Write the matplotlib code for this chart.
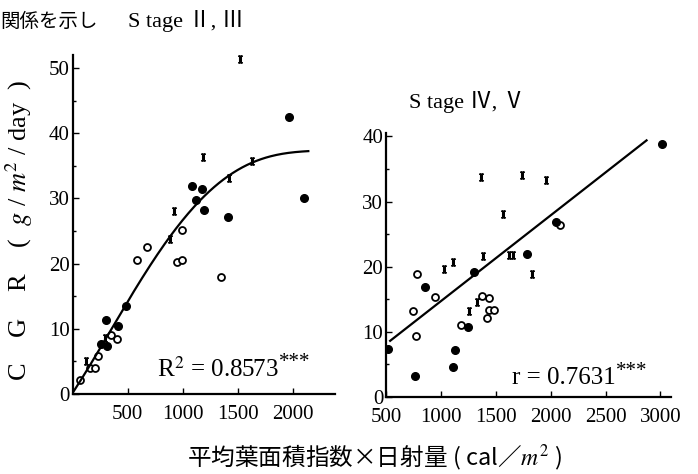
import numpy as np
import matplotlib
matplotlib.use("Agg")
import matplotlib.pyplot as plt
from matplotlib.ticker import MultipleLocator

# ---------------- data ----------------
# Left panel: Stage II, III
L_open_x = [66, 157, 200, 227, 349, 406, 585, 678, 945, 991, 997, 1345]
L_open_y = [2.2, 4.0, 4.0, 5.8, 9.0, 8.5, 20.6, 22.6, 20.2, 20.5, 25.1, 18.0]
L_fill_x = [255, 309, 303, 412, 480, 1087, 1173, 1121, 1191, 1409, 1969, 2100]
L_fill_y = [7.7, 7.4, 11.4, 10.5, 13.5, 31.9, 31.5, 29.8, 28.2, 27.2, 42.5, 30.1]
L_bar_x = [125, 294, 885, 921, 1185, 1418, 1627, 1523]
L_bar_y = [5.0, 8.6, 23.8, 28.1, 36.3, 33.2, 35.7, 51.4]
# fitted curve
L_curve_x = [0, 218, 354, 491, 703, 885, 1118, 1421, 1612, 1763, 1976, 2142]
L_curve_y = [0, 6.7, 10.0, 13.4, 20.0, 23.6, 29.7, 33.2, 35.4, 36.3, 36.95, 37.3]

# Right panel: Stage IV, V
R_fill_x = [518, 762, 855, 1109, 1130, 1248, 1302, 1783, 2046, 3013]
R_fill_y = [7.4, 3.2, 16.8, 4.6, 7.2, 10.7, 19.1, 22.0, 26.8, 38.9]
R_open_x = [786, 949, 750, 771, 1187, 1377, 1434, 1422, 1434, 1483, 2085]
R_open_y = [18.8, 15.4, 13.2, 9.4, 11.1, 15.5, 15.1, 12.1, 13.3, 13.4, 26.4]
R_bar_x = [1362, 1739, 1953, 1564, 1380, 1623, 1660, 1829, 1109, 1024, 1257, 1332]
R_bar_y = [33.8, 34.0, 33.3, 28.1, 21.6, 21.8, 21.8, 18.8, 20.7, 19.6, 13.1, 14.5]
# regression line y = a + b x
R_line_a = 1.50
R_line_b = 0.01319
R_line_range = [538, 2873]

L_xticks = [500, 1000, 1500, 2000]
L_yticks = [0, 10, 20, 30, 40, 50]
R_xticks = [500, 1000, 1500, 2000, 2500, 3000]
R_yticks = [0, 10, 20, 30, 40]

# ---------------- drawing ----------------
SERIF = ['Liberation Serif', 'Noto Sans CJK JP', 'DejaVu Sans']
JP = ['Noto Sans CJK JP', 'DejaVu Sans']
plt.rcParams['font.family'] = SERIF
plt.rcParams['mathtext.fontset'] = 'stix'

fig = plt.figure(figsize=(6.98, 4.74), dpi=100)
axL = fig.add_axes([0.1042, 0.1688, 0.480 - 0.1042, 0.884 - 0.1688])
axR = fig.add_axes([0.553, 0.163, 0.962 - 0.553, 0.719 - 0.163])

bar_marker = r'$\mathbf{I}$'


def style(ax, xt, yt, xlim, ylim):
    for s in ['top', 'right']:
        ax.spines[s].set_visible(False)
    for s in ['left', 'bottom']:
        ax.spines[s].set_linewidth(1.6)
    ax.set_xlim(*xlim)
    ax.set_ylim(*ylim)
    ax.set_xticks(xt)
    ax.set_yticks(yt)
    ax.yaxis.set_minor_locator(MultipleLocator(5))
    ax.tick_params(direction='in', length=4, width=1, labelsize=15)
    ax.tick_params(axis='x', pad=8)
    ax.tick_params(axis='y', pad=2)
    ax.tick_params(which='minor', direction='in', length=2.5, width=1)
    for lab in ax.get_xticklabels() + ax.get_yticklabels():
        lab.set_family(SERIF)


def stat_text(ax, x, y, s):
    t = ax.text(x, y, s, transform=ax.transAxes, fontsize=18,
                family=SERIF, va='center')
    ax.annotate('***', xy=(1.0, 0.78), xycoords=t, fontsize=15,
                family=SERIF, va='center', ha='left')


# Left panel
style(axL, L_xticks, L_yticks, (0, 2385), (0, 52))
axL.plot(L_open_x, L_open_y, 'o', mfc='white', mec='black', mew=1.3, ms=5)
axL.plot(L_fill_x, L_fill_y, 'o', color='black', ms=5.5)
axL.plot(L_bar_x, L_bar_y, marker=bar_marker, ls='none', color='black', ms=5)
cc = np.polyfit(L_curve_x, L_curve_y, 4)
xs = np.linspace(L_curve_x[0] + 10, L_curve_x[-1], 200)
axL.plot(xs, np.polyval(cc, xs), color='black', lw=1.6)
stat_text(axL, 0.321, 0.071, r'R$^2$ = 0.8573')

# Right panel
style(axR, R_xticks, R_yticks, (520, 3100), (0, 40.5))
axR.plot(R_open_x, R_open_y, 'o', mfc='white', mec='black', mew=1.3, ms=5)
axR.plot(R_fill_x, R_fill_y, 'o', color='black', ms=5.5)
axR.plot(R_bar_x, R_bar_y, marker=bar_marker, ls='none', color='black', ms=5)
xl = np.array(R_line_range)
axR.plot(xl, R_line_a + R_line_b * xl, color='black', lw=1.6)
stat_text(axR, 0.441, 0.071, 'r = 0.7631')

# texts
fig.text(0.0, 0.955, '関係を示し', fontsize=14, family=JP, va='center')
fig.text(0.183, 0.955, 'S tage Ⅱ, Ⅲ', fontsize=16, family=SERIF, va='center')
fig.text(0.669, 0.785, 'S tage Ⅳ, Ⅴ', fontsize=16, family=SERIF, va='center', ha='center')
fig.text(0.027, 0.515, 'C    G    R    (  $g$ / $m^2$ / day  )', rotation=90,
         fontsize=19, family=SERIF, va='center', ha='center')
fig.text(0.537, 0.034, '平均葉面積指数×日射量 ( cal／$m^2$ )', fontsize=17,
         family=JP, va='center', ha='center')

fig.savefig('out.png', dpi=100)
